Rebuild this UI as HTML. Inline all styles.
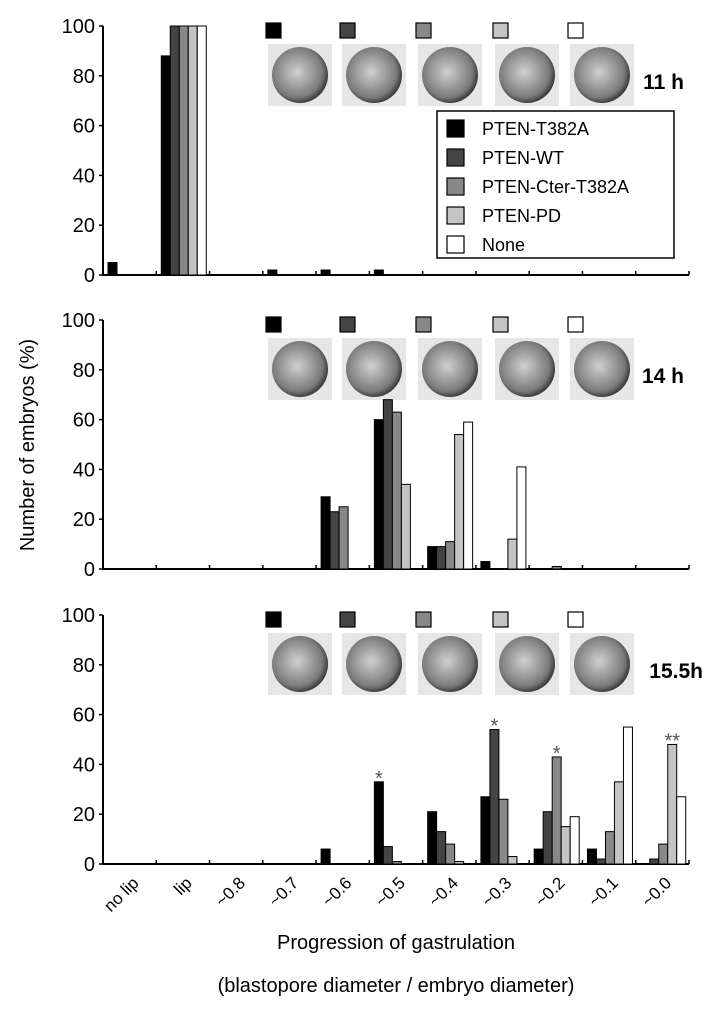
<!DOCTYPE html>
<html><head><meta charset="utf-8"><style>
body{margin:0;background:#fff;}
svg{display:block;font-family:"Liberation Sans",Arial,sans-serif;}
</style></head><body>
<svg id="chart" width="728" height="1011" viewBox="0 0 728 1011">
<defs>
<radialGradient id="emb" cx="45%" cy="45%" r="60%"><stop offset="0" stop-color="#d0d0d0"/><stop offset="0.75" stop-color="#7a7a7a"/><stop offset="1" stop-color="#222"/></radialGradient>
</defs>
<text x="34" y="445" transform="rotate(-90 34 445)" text-anchor="middle" font-size="20">Number of embryos (%)</text>
<text x="396" y="949" text-anchor="middle" font-size="20">Progression of gastrulation</text>
<text x="396" y="992" text-anchor="middle" font-size="20">(blastopore diameter / embryo diameter)</text>
</svg>
<script>
const categories=["no lip","lip","~0.8","~0.7","~0.6","~0.5","~0.4","~0.3","~0.2","~0.1","~0.0"];
const seriesNames=["PTEN-T382A","PTEN-WT","PTEN-Cter-T382A","PTEN-PD","None"];
const panelLabels=["11 h","14 h","15.5h"];
const yTicks=[0,20,40,60,80,100];
const h11_T382A=[5,88,0,2,2,2,0,0,0,0,0];
const h11_WT=[0,100,0,0,0,0,0,0,0,0,0];
const h11_Cter=[0,100,0,0,0,0,0,0,0,0,0];
const h11_PD=[0,100,0,0,0,0,0,0,0,0,0];
const h11_None=[0,100,0,0,0,0,0,0,0,0,0];
const h14_T382A=[0,0,0,0,29,60,9,3,0,0,0];
const h14_WT=[0,0,0,0,23,68,9,0,0,0,0];
const h14_Cter=[0,0,0,0,25,63,11,0,1,0,0];
const h14_PD=[0,0,0,0,0,34,54,12,0,0,0];
const h14_None=[0,0,0,0,0,0,59,41,0,0,0];
const h155_T382A=[0,0,0,0,6,33,21,27,6,6,0];
const h155_WT=[0,0,0,0,0,7,13,54,21,2,2];
const h155_Cter=[0,0,0,0,0,1,8,26,43,13,8];
const h155_PD=[0,0,0,0,0,0,1,3,15,33,48];
const h155_None=[0,0,0,0,0,0,0,0,19,55,27];
const stars155=["","","","","","*","","*","*","","**"];
const panels=[[h11_T382A,h11_WT,h11_Cter,h11_PD,h11_None],[h14_T382A,h14_WT,h14_Cter,h14_PD,h14_None],[h155_T382A,h155_WT,h155_Cter,h155_PD,h155_None]];
const colors=["#000","#444","#888","#c4c4c4","#fff"];
const NS="http://www.w3.org/2000/svg";
const svg=document.getElementById("chart");
const X0=103,X1=689,catW=(X1-X0)/categories.length,barW=9,barOff=5;
const bases=[275,569,864],pxPer=2.49;
function mk(t,a,p){const e=document.createElementNS(NS,t);for(const k in a)e.setAttribute(k,a[k]);(p||svg).appendChild(e);return e;}
function xCat(i){return X0+i*catW;}
panels.forEach((ser,p)=>{
  const base=bases[p];
  const yS=v=>base-v*pxPer;
  const g=mk("g",{});
  
  
  const ax=mk("path",{d:`M${X0} ${yS(100)} V${base} H${X1}`,stroke:"#000","stroke-width":2,fill:"none"},g);
  
  
  yTicks.forEach(t=>{
    mk("line",{x1:X0-4,x2:X0,y1:yS(t),y2:yS(t),stroke:"#000","stroke-width":1.5},g);
    const tx=mk("text",{x:X0-8,y:yS(t)+7,"text-anchor":"end","font-size":20},g);
    tx.textContent=t;
    
    
  });
  for(let i=1;i<=categories.length;i++)mk("line",{x1:xCat(i),x2:xCat(i),y1:base,y2:base-4,stroke:"#000","stroke-width":1.5},g);
  const thumbX=[268,342,418,495,570];
  thumbX.forEach((tx,k)=>{
    const ty=yS(100)+18;
    const im=mk("rect",{x:tx,y:ty,width:64,height:62,fill:"#e6e6e6"},g);
    
    
    mk("ellipse",{cx:tx+32,cy:ty+31,rx:28,ry:28,fill:"url(#emb)"},g);
    const sq=mk("rect",{x:tx-2,y:yS(100)-3,width:15,height:15,fill:colors[k],stroke:"#000","stroke-width":1.2},g);
    
    
  });
  const pl=mk("text",{x:p==2?703:684,y:yS(100)+63,"text-anchor":"end","font-size":21,"font-weight":"bold"},g);
  pl.textContent=panelLabels[p];
  
  
  ser.forEach((vals,s)=>{
    vals.forEach((v,c)=>{
      if(v<=0)return;
      const r=mk("rect",{x:xCat(c)+barOff+s*barW,y:yS(v),width:barW,height:v*pxPer,fill:colors[s],stroke:"#000","stroke-width":1},g);
      
      
    });
  });
  if(p==2){
    stars155.forEach((st,c)=>{
      if(!st)return;
      let mx=0,mi=0;ser.forEach((vals,s)=>{if(vals[c]>mx){mx=vals[c];mi=s;}});
      const t=mk("text",{x:xCat(c)+barOff+mi*barW+barW/2,y:yS(mx)+3,"text-anchor":"middle","font-size":20,fill:"#555"},g);
      t.textContent=st;
      
      
    });
    categories.forEach((c,i)=>{
      const x=xCat(i)+catW/2+10,y=base+20;
      const t=mk("text",{x:x,y:y,"text-anchor":"end","font-size":17,transform:`rotate(-45 ${x} ${y})`},g);
      t.textContent=c;
      
      
    });
  }
});
const lg=mk("g",{});


mk("rect",{x:437,y:111,width:237,height:147,fill:"#fff",stroke:"#000","stroke-width":1.5},lg);
seriesNames.forEach((n,i)=>{
  const y=120+i*29;
  const e=mk("g",{},lg);
  
  
  mk("rect",{x:447,y:y,width:17,height:17,fill:colors[i],stroke:"#000","stroke-width":1.2},e);
  const t=mk("text",{x:482,y:y+15,"font-size":18},e);
  t.textContent=n;
});
</script>
</body></html>
